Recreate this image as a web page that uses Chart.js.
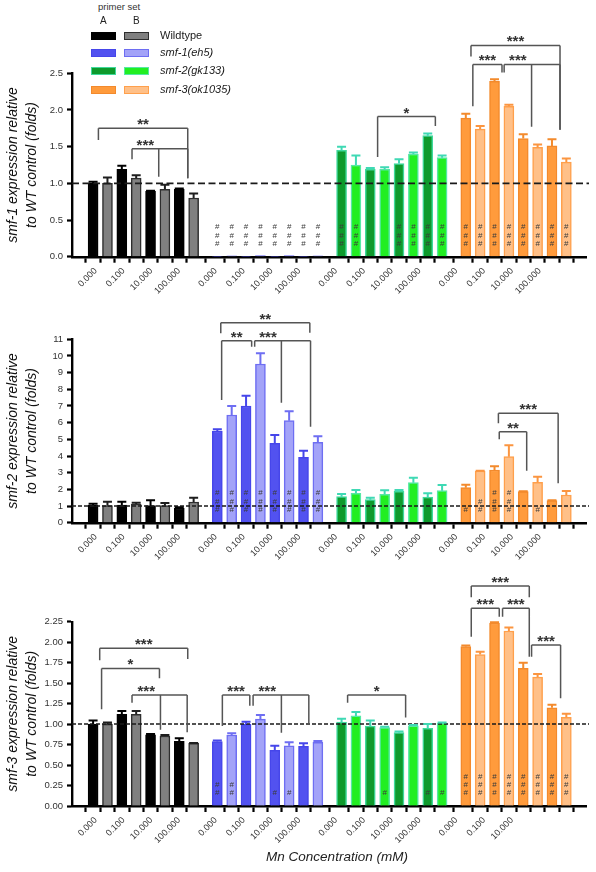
<!DOCTYPE html>
<html><head><meta charset="utf-8">
<script src="https://cdn.jsdelivr.net/npm/chart.js@4.4.1/dist/chart.umd.min.js"></script>
<style>
html,body{margin:0;padding:0;background:#fff;}
#wrap{position:relative;width:596px;height:872px;overflow:hidden;font-family:Arial,"Liberation Sans",Helvetica,sans-serif;}
canvas{position:absolute;left:0;}
.t{position:absolute;white-space:nowrap;color:#1a1a1a;line-height:1;}
.sw{position:absolute;width:25px;height:8px;box-sizing:border-box;border:1.5px solid;}
</style></head>
<body><div id="wrap">
<canvas id="c1" width="596" height="280" style="top:20px"></canvas>
<canvas id="c2" width="596" height="260" style="top:300px"></canvas>
<canvas id="c3" width="596" height="290" style="top:560px"></canvas>
</div>
<script>
// ---------------- DATA ----------------
const concentrations = ['0.000','0.100','10.000','100.000'];
const genotypes = ['Wildtype','smf-1(eh5)','smf-2(gk133)','smf-3(ok1035)'];
const primerSets = ['A','B'];
const xAxisTitle = 'Mn Concentration (mM)';

// bar order inside each genotype group: A 0.000, B 0.000, A 0.100, B 0.100, A 10.000, B 10.000, A 100.000, B 100.000
const smf1Means = [1.00,1.00,1.19,1.07,0.89,0.92,0.92,0.80,
  0.005,0.012,0.005,0.015,0.005,0.015,0.005,0.012,
  1.45,1.25,1.19,1.19,1.27,1.40,1.65,1.35,
  1.89,1.74,2.39,2.05,1.61,1.49,1.51,1.29];
const smf1Errors = [0.02,0.08,0.05,0.04,0.01,0.06,0.01,0.06,
  0,0,0,0,0,0,0,0,
  0.05,0.13,0.02,0.03,0.06,0.02,0.03,0.03,
  0.06,0.04,0.03,0.02,0.06,0.04,0.09,0.05];
const smf1Hashes = [0,0,0,0,0,0,0,0, 3,3,3,3,3,3,3,3, 3,3,0,0,3,3,3,3, 3,3,3,3,3,3,3,3];

const smf2Means = [1.06,1.02,1.06,1.12,1.02,1.02,0.88,1.24,
  5.5,6.46,7.0,9.52,4.76,6.12,3.92,4.82,
  1.56,1.76,1.38,1.7,1.88,2.4,1.54,1.92,
  2.1,3.1,3.16,3.96,1.86,2.42,1.32,1.66];
const smf2Errors = [0.08,0.24,0.2,0.08,0.32,0.16,0.04,0.26,
  0.1,0.54,0.62,0.64,0.5,0.56,0.4,0.36,
  0.16,0.2,0.12,0.24,0.08,0.3,0.22,0.34,
  0.18,0.02,0.22,0.68,0.02,0.34,0.02,0.24];
const smf2Hashes = [0,0,0,0,0,0,0,0, 3,3,3,3,3,3,3,3, 0,0,0,0,0,0,0,0, 1,2,3,3,0,1,0,0];

const smf3Means = [1.00,1.00,1.12,1.12,0.87,0.855,0.79,0.765,
  0.785,0.867,1.0,1.06,0.68,0.736,0.728,0.777,
  1.025,1.1,0.976,0.956,0.895,0.98,0.948,1.013,
  1.945,1.85,2.234,2.136,1.68,1.574,1.2,1.082];
const smf3Errors = [0.045,0.02,0.04,0.04,0.01,0.012,0.036,0.005,
  0.015,0.02,0.03,0.05,0.056,0.041,0.037,0.016,
  0.041,0.047,0.069,0.012,0.016,0.009,0.052,0.007,
  0.015,0.034,0.008,0.044,0.07,0.036,0.037,0.045];
const smf3Hashes = [0,0,0,0,0,0,0,0, 2,2,0,0,1,1,0,0, 0,0,0,1,0,0,1,1, 3,3,3,3,3,3,3,3];

const smf1YTicks = ['0.0','0.5','1.0','1.5','2.0','2.5'];
const smf2YTicks = ['0','1','2','3','4','5','6','7','8','9','10','11'];
const smf3YTicks = ['0.00','0.25','0.50','0.75','1.00','1.25','1.50','1.75','2.00','2.25'];

const smf1PairLabels = [].concat(concentrations, concentrations, concentrations, concentrations);
const smf2PairLabels = [].concat(concentrations, concentrations, concentrations, concentrations);
const smf3PairLabels = [].concat(concentrations, concentrations, concentrations, ['0.000','0.100','10.000','']);

const smf1Title = ['smf-1 expression relative','to WT control (folds)'];
const smf2Title = ['smf-2 expression relative','to WT control (folds)'];
const smf3Title = ['smf-3 expression relative','to WT control (folds)'];

// significance brackets: group, label, level (y value), legs [position in bar units within group, lower end y value]
const smf1Brackets = [
  {group:0,label:'**',level:1.75,legs:[[0.37,1.59],[6.59,1.07]]},
  {group:0,label:'***',level:1.47,legs:[[2.71,1.33],[4.57,1.09],[6.59,1.07]]},
  {group:2,label:'*',level:1.91,legs:[[2.51,1.36],[6.53,1.78]]},
  {group:3,label:'***',level:2.88,legs:[[0.36,2.73],[6.56,1.73]]},
  {group:3,label:'***',level:2.62,legs:[[0.49,2.05],[2.52,2.51]]},
  {group:3,label:'***',level:2.62,legs:[[2.67,2.51],[4.58,1.77],[6.56,1.73]]}
];
const smf2Brackets = [
  {group:1,label:'**',level:12.0,legs:[[0.24,11.36],[6.44,11.4]]},
  {group:1,label:'**',level:10.92,legs:[[0.3,7.36],[2.39,10.56]]},
  {group:1,label:'***',level:10.92,legs:[[2.6,10.56],[4.46,7.2],[6.49,5.76]]},
  {group:3,label:'***',level:6.56,legs:[[2.27,5.96],[6.43,2.36]]},
  {group:3,label:'**',level:5.46,legs:[[2.33,5.0],[4.24,3.12]]}
];
const smf3Brackets = [
  {group:0,label:'***',level:1.925,legs:[[0.46,1.78],[6.59,1.795]]},
  {group:0,label:'*',level:1.68,legs:[[0.59,1.18],[4.62,1.56]]},
  {group:0,label:'***',level:1.355,legs:[[2.71,1.26],[4.69,0.93],[6.55,0.9]]},
  {group:1,label:'***',level:1.355,legs:[[0.35,0.977],[2.26,1.225]]},
  {group:1,label:'***',level:1.355,legs:[[2.49,1.225],[4.46,0.895],[6.37,1.01]]},
  {group:2,label:'*',level:1.355,legs:[[0.42,1.26],[4.46,1.08]]},
  {group:3,label:'***',level:2.686,legs:[[0.38,2.55],[4.42,2.55]]},
  {group:3,label:'***',level:2.414,legs:[[0.38,2.067],[2.33,2.31]]},
  {group:3,label:'***',level:2.414,legs:[[2.56,2.31],[4.42,1.823]]},
  {group:3,label:'***',level:1.966,legs:[[4.58,1.823],[6.6,1.315]]}
];

// ---------------- STYLE ----------------
const FILLS = [['#000000','#808080'],['#5252f0','#a3a3f8'],['#0e9a2c','#22ee22'],['#ff9b3c','#ffc088']];
const BORDERS = [['#000000','#2e2e2e'],['#4646ea','#6e6ef2'],['#3fd99c','#55e8a4'],['#f38a2c','#ffa04c']];
const ERRCOL = [['#000000','#1e1e1e'],['#4646ea','#6e6ef2'],['#3fd9b4','#3fd9b4'],['#f38a2c','#fb9540']];
const GROUP_STRIDE = 8.65;
const X_MIN = -0.91, X_MAX = 33.76;
const FONT = 'Arial, "Liberation Sans", Helvetica, sans-serif';
Chart.defaults.font.family = FONT;

const barX = i => Math.floor(i/8)*GROUP_STRIDE + (i%8);
const pairX = k => Math.floor(k/4)*GROUP_STRIDE + (k%4)*2 + 0.5;

const annot = {
  id:'annot',
  afterDatasetsDraw(chart, args, o) {
    const ctx = chart.ctx, xs = chart.scales.x, ys = chart.scales.y, area = chart.chartArea;
    const meta = chart.getDatasetMeta(0);
    ctx.save();
    // reference line at 1.0
    const yr = ys.getPixelForValue(1);
    ctx.strokeStyle = '#1a1a1a'; ctx.lineWidth = o.dashWidth; ctx.setLineDash(o.dash);
    ctx.beginPath(); ctx.moveTo(area.left, yr); ctx.lineTo(area.right + 3, yr); ctx.stroke();
    ctx.setLineDash([]);
    // error bars (upper)
    meta.data.forEach((bar, i) => {
      const e = o.errors[i]; if (!e) return;
      const g = Math.floor(i/8), p = i%2;
      const top = ys.getPixelForValue(o.means[i] + e);
      ctx.strokeStyle = ERRCOL[g][p]; ctx.lineWidth = 2;
      ctx.beginPath(); ctx.moveTo(bar.x, bar.y); ctx.lineTo(bar.x, top);
      ctx.moveTo(bar.x - 4.5, top); ctx.lineTo(bar.x + 4.5, top); ctx.stroke();
    });
    // hash marks
    ctx.fillStyle = '#3a3a3a'; ctx.font = '8px ' + FONT; ctx.textAlign = 'center'; ctx.textBaseline = 'middle';
    meta.data.forEach((bar, i) => {
      for (let k = 0; k < o.hashes[i]; k++) ctx.fillText('#', bar.x, area.bottom - 13 - k*8.3);
    });
    // brackets
    ctx.strokeStyle = '#555'; ctx.lineWidth = 1.5; ctx.lineCap = 'butt';
    o.brackets.forEach(b => {
      const base = b.group*GROUP_STRIDE;
      const yl = ys.getPixelForValue(b.level);
      const xs0 = b.legs.map(l => xs.getPixelForValue(base + l[0]));
      ctx.beginPath();
      ctx.moveTo(xs0[0], yl); ctx.lineTo(xs0[xs0.length-1], yl);
      b.legs.forEach((l, j) => { ctx.moveTo(xs0[j], yl); ctx.lineTo(xs0[j], ys.getPixelForValue(l[1])); });
      ctx.stroke();
      ctx.fillStyle = '#333'; ctx.font = 'bold 15px ' + FONT; ctx.textAlign = 'center'; ctx.textBaseline = 'alphabetic';
      ctx.fillText(b.label, (xs0[0] + xs0[1]) / 2, yl + 1);
    });
    ctx.restore();
  }
};

function makePanel(id, cfg) {
  const n = cfg.means.length;
  const bg = [], bc = [];
  for (let i = 0; i < n; i++) { const g = Math.floor(i/8), p = i%2; bg.push(FILLS[g][p]); bc.push(BORDERS[g][p]); }
  const canvas = document.getElementById(id);
  const H = canvas.height;
  return new Chart(canvas, {
    type: 'bar',
    data: { datasets: [{ data: cfg.means.map((v, i) => ({x: barX(i), y: v})),
      backgroundColor: bg, borderColor: bc, borderWidth: 1.5, barThickness: 10, borderSkipped: 'bottom' }] },
    options: {
      responsive: false, animation: false, events: [],
      layout: { padding: { top: cfg.top, right: 10, bottom: 0, left: 0 } },
      plugins: { legend: { display: false }, tooltip: { enabled: false },
        annot: { means: cfg.means, errors: cfg.errors, hashes: cfg.hashes, brackets: cfg.brackets, dash: cfg.dash, dashWidth: cfg.dashWidth } },
      scales: {
        x: { type: 'linear', position: 'bottom', weight: 0, min: X_MIN, max: X_MAX,
          afterBuildTicks: s => { s.ticks = cfg.means.map((v, i) => ({value: barX(i)})); },
          afterFit: s => { s.height = 0; },
          ticks: { display: false },
          grid: { display: true, drawOnChartArea: false, drawTicks: true, tickLength: 6, tickWidth: 2.2, tickColor: '#000' },
          border: { display: true, width: 2.4, color: '#000' } },
        x2: { type: 'linear', position: 'bottom', weight: 1, min: X_MIN, max: X_MAX,
          afterBuildTicks: s => { s.ticks = cfg.pairLabels.map((l, k) => ({value: pairX(k)})); },
          afterFit: s => { s.height = H - cfg.bottom; },
          ticks: { autoSkip: false, minRotation: 45, maxRotation: 45, padding: 1, labelOffset: -12, color: '#333', font: { size: 9 },
            callback: (v, i) => cfg.pairLabels[i] },
          grid: { display: false }, border: { display: false } },
        y: { min: 0, max: parseFloat(cfg.yTicks[cfg.yTicks.length-1]),
          afterBuildTicks: s => { s.ticks = cfg.yTicks.map(t => ({value: parseFloat(t)})); },
          afterFit: s => { s.width = 72; },
          ticks: { color: '#333', font: { size: 9.5 }, padding: 4, callback: (v, i) => cfg.yTicks[i] },
          grid: { display: true, drawOnChartArea: false, drawTicks: true, tickLength: 5, tickWidth: 2.2, tickColor: '#000' },
          border: { display: true, width: 2.4, color: '#000' },
          title: { display: true, text: cfg.title, color: '#111', font: { size: 14, style: 'italic', lineHeight: 1.35 }, padding: { top: 3.5, bottom: 0 } } }
      }
    },
    plugins: [annot]
  });
}

makePanel('c1', { means: smf1Means, errors: smf1Errors, hashes: smf1Hashes, brackets: smf1Brackets, yTicks: smf1YTicks,
  pairLabels: smf1PairLabels, title: smf1Title, dash: [7,3.5], dashWidth: 1.8, top: 53.3, bottom: 236.7 });
makePanel('c2', { means: smf2Means, errors: smf2Errors, hashes: smf2Hashes, brackets: smf2Brackets, yTicks: smf2YTicks,
  pairLabels: smf2PairLabels, title: smf2Title, dash: [4,2], dashWidth: 1.5, top: 39.3, bottom: 222.7 });
makePanel('c3', { means: smf3Means, errors: smf3Errors, hashes: smf3Hashes, brackets: smf3Brackets, yTicks: smf3YTicks,
  pairLabels: smf3PairLabels, title: smf3Title, dash: [4,2], dashWidth: 1.5, top: 61.7, bottom: 246 });

// ---------------- LEGEND & AXIS TITLE (HTML text) ----------------
const wrap = document.getElementById('wrap');
function addText(txt, left, top, size, extra) {
  const d = document.createElement('div'); d.className = 't'; d.textContent = txt;
  d.style.left = left + 'px'; d.style.top = top + 'px'; d.style.fontSize = size + 'px';
  if (extra) Object.assign(d.style, extra);
  wrap.appendChild(d); return d;
}
addText('primer set', 98, 2, 9.5, { color: '#333' });
addText(primerSets[0], 100, 16, 10, { color: '#222' });
addText(primerSets[1], 133, 16, 10, { color: '#222' });
const rowY = [32, 49, 67, 86];
genotypes.forEach((g, r) => {
  [0, 1].forEach(p => {
    const s = document.createElement('div'); s.className = 'sw';
    s.style.left = (p ? 124 : 91) + 'px'; s.style.top = rowY[r] + 'px';
    s.style.background = FILLS[r][p]; s.style.borderColor = BORDERS[r][p];
    wrap.appendChild(s);
  });
  addText(g, 160, rowY[r] - 2, 11, r === 0 ? {} : { fontStyle: 'italic' });
});
const xt = addText(xAxisTitle, 0, 850, 13.5, { fontStyle: 'italic', width: '674px', textAlign: 'center', color: '#222' });
</script>
</body></html>
